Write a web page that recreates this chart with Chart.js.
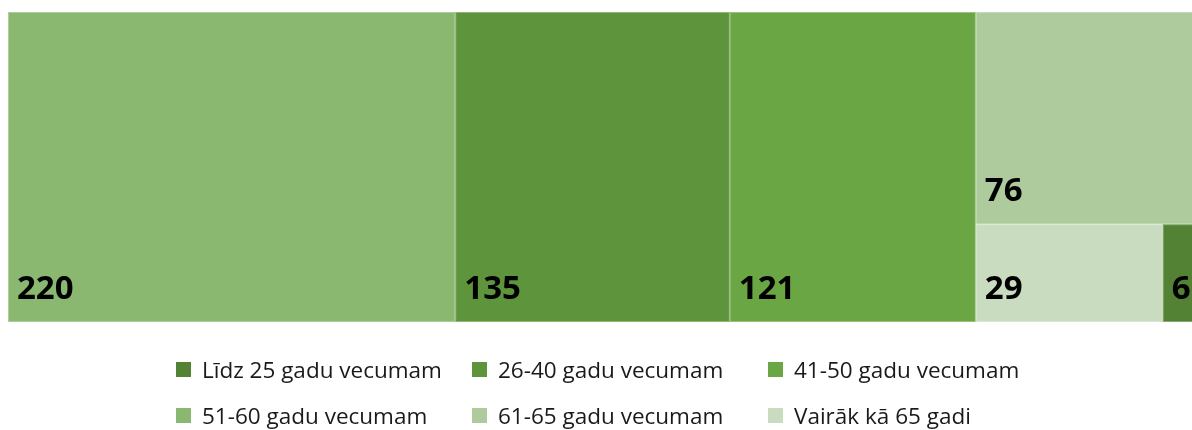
<!DOCTYPE html>
<html lang="lv">
<head>
<meta charset="utf-8">
<script src="https://cdn.jsdelivr.net/npm/chart.js@4.4.1/dist/chart.umd.min.js"></script>
<style>
  html, body { margin: 0; padding: 0; background: #fff; overflow: hidden; }
  body { width: 1192px; height: 430px; position: relative; font-family: "Open Sans", sans-serif; }
  #wrap { position: absolute; left: 0; top: 0; width: 1204px; height: 330px; }
  #legenda { position: absolute; left: 0; top: 0; width: 1192px; height: 430px; pointer-events: none; }
  .item { position: absolute; display: flex; align-items: center; height: 30px; font-size: 22.5px; color: #1a1a1a; white-space: nowrap; }
  .item span.box { width: 15px; height: 15px; margin-right: 11px; flex: none; }
</style>
</head>
<body>
<div id="wrap"><canvas id="myChart"></canvas></div>
<div id="legenda"></div>
<script>
// dados do gráfico (vecuma grupas)
var kategorijas = ['Līdz 25 gadu vecumam', '26-40 gadu vecumam', '41-50 gadu vecumam',
                   '51-60 gadu vecumam', '61-65 gadu vecumam', 'Vairāk kā 65 gadi'];
var vertibas = [6, 135, 121, 220, 76, 29];
var krasas = ['#548235', '#5e943c', '#6aa744', '#8ab870', '#adcb9c', '#c9dcc0'];

var kopa = vertibas.reduce(function (a, b) { return a + b; }, 0);

// squarify: layout feito em unidades dos eixos (x: 0..kopa, y: 0..1)
function squarify(itens, kx, ky) {
    var rect = { x0: 0, y0: 0, x1: kopa, y1: 1 };
    var areaPx = kopa * kx * ky; // area total em px^2
    var fator = areaPx / kopa;
    var saida = [];
    var resto = itens.slice();

    function pior(linha, w) {
        var s = 0, mx = -Infinity, mn = Infinity;
        linha.forEach(function (it) { var a = it.v * fator; s += a; mx = Math.max(mx, a); mn = Math.min(mn, a); });
        return Math.max(w * w * mx / (s * s), (s * s) / (w * w * mn));
    }

    function colocar(linha) {
        var wpx = (rect.x1 - rect.x0) * kx;
        var hpx = (rect.y1 - rect.y0) * ky;
        var soma = 0;
        linha.forEach(function (it) { soma += it.v * fator; });
        if (wpx >= hpx) {
            // coluna a esquerda, de cima para baixo
            var largura = soma / hpx / kx;
            var yTopo = rect.y1;
            linha.forEach(function (it) {
                var h = (it.v * fator / soma) * (rect.y1 - rect.y0);
                saida.push({ it: it, x0: rect.x0, x1: rect.x0 + largura, y0: yTopo - h, y1: yTopo });
                yTopo -= h;
            });
            rect.x0 += largura;
        } else {
            // linha no topo, da esquerda para a direita
            var altura = soma / wpx / ky;
            var xEsq = rect.x0;
            linha.forEach(function (it) {
                var w = (it.v * fator / soma) * (rect.x1 - rect.x0);
                saida.push({ it: it, x0: xEsq, x1: xEsq + w, y0: rect.y1 - altura, y1: rect.y1 });
                xEsq += w;
            });
            rect.y1 -= altura;
        }
    }

    var linha = [];
    while (resto.length) {
        var w = Math.min((rect.x1 - rect.x0) * kx, (rect.y1 - rect.y0) * ky);
        var prox = resto[0];
        if (linha.length === 0 || pior(linha.concat([prox]), w) <= pior(linha, w)) {
            linha.push(prox);
            resto.shift();
        } else {
            colocar(linha);
            linha = [];
        }
    }
    if (linha.length) colocar(linha);
    return saida;
}

var itens = vertibas.map(function (v, i) { return { v: v, i: i }; })
    .sort(function (a, b) { return b.v - a.v; });

var treemapPlugin = {
    id: 'treemapCells',
    beforeDatasetsDraw: function (chart) {
        var ctx = chart.ctx;
        var sx = chart.scales.x, sy = chart.scales.y;
        var kx = Math.abs(sx.getPixelForValue(1) - sx.getPixelForValue(0));
        var ky = Math.abs(sy.getPixelForValue(1) - sy.getPixelForValue(0));
        var celulas = squarify(itens, kx, ky);
        ctx.save();
        celulas.forEach(function (c) {
            var l = sx.getPixelForValue(c.x0), r = sx.getPixelForValue(c.x1);
            var t = sy.getPixelForValue(c.y1), b = sy.getPixelForValue(c.y0);
            ctx.fillStyle = krasas[c.it.i];
            ctx.fillRect(l, t, r - l, b - t);
            ctx.strokeStyle = 'rgba(255,255,255,0.3)';
            ctx.lineWidth = 1;
            ctx.strokeRect(l + 0.5, t + 0.5, r - l - 1, b - t - 1);
        });
        // rotulos dos valores
        ctx.fillStyle = '#000';
        ctx.font = 'bold 33px "Open Sans"';
        ctx.textBaseline = 'alphabetic';
        ctx.textAlign = 'left';
        celulas.forEach(function (c) {
            var l = sx.getPixelForValue(c.x0);
            var b = sy.getPixelForValue(c.y0);
            ctx.fillText(String(c.it.v), l + 9, b - 23);
        });
        ctx.restore();
    }
};

var ctx = document.getElementById('myChart');
var Grafico = new Chart(ctx, {
    type: 'scatter',
    data: { datasets: [] },
    options: {
        responsive: true,
        maintainAspectRatio: false,
        animation: false,
        layout: { padding: { left: 8, top: 12, right: 2.5, bottom: 8 } },
        plugins: { legend: { display: false }, tooltip: { enabled: false } },
        scales: {
            x: { type: 'linear', min: 0, max: kopa, display: false },
            y: { type: 'linear', min: 0, max: 1, display: false }
        }
    },
    plugins: [treemapPlugin]
});

// legenda em html, 3 colunas
var legenda = document.getElementById('legenda');
kategorijas.forEach(function (nome, i) {
    var d = document.createElement('div');
    d.className = 'item';
    d.style.left = (176 + (i % 3) * 296) + 'px';
    d.style.top = (354 + Math.floor(i / 3) * 46) + 'px';
    d.innerHTML = '<span class="box" style="background:' + krasas[i] + '"></span>' + nome;
    legenda.appendChild(d);
});
</script>
</body>
</html>
